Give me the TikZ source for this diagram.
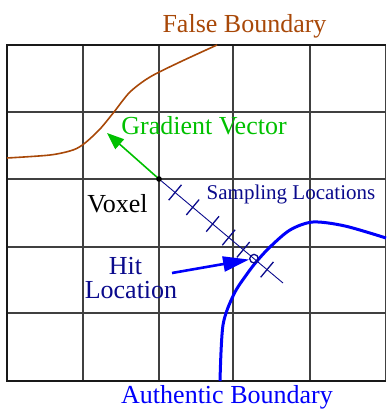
\documentclass[tikz,border=0pt]{standalone}
\usepackage{fontspec}
\setmainfont{Liberation Serif}
\usetikzlibrary{calc,arrows.meta}
\definecolor{falsebrown}{RGB}{168,72,8}
\definecolor{gradgreen}{RGB}{0,192,0}
\definecolor{sampnavy}{RGB}{10,10,140}
\definecolor{hitblue}{RGB}{0,0,250}

\begin{document}
\begin{tikzpicture}[x=1pt, y=-1pt,
  lbl/.style={anchor=base, inner sep=0pt, font=\fontsize{26}{28}\selectfont},
  gridline/.style={line width=1.1pt, black!75},
  frameline/.style={line width=2.4pt, black!90},
  samptick/.style={sampnavy, line width=1.3pt}]
\useasboundingbox (0,0) rectangle (386,409);

% grid
\foreach \gx in {83,159,233,310} \draw[gridline] (\gx,45) -- (\gx,381);
\foreach \gy in {112,179,247,313} \draw[gridline] (7,\gy) -- (385,\gy);
\draw[gridline] (385.3,45) -- (385.3,381);
\draw[frameline] (386,45) -- (7,45) -- (7,381) -- (386,381);

% boundaries
\draw[falsebrown, line width=1.6pt] plot[smooth] coordinates {(7,158) (50,155) (73,150) (85,143) (100,129) (114,112) (130,92) (150,77) (180,62) (217,45)};
\draw[hitblue, line width=3pt] plot[smooth] coordinates {(220,381) (223,325) (234,294) (247,274) (257,261) (270,247) (290,230) (313,222) (345,226) (386,238)};

% voxel, gradient and sampling ray
\coordinate (vox) at (159,179);
\coordinate (rayend) at (283,283);
\coordinate (gradtip) at (107,133);
\draw[sampnavy, line width=0.9pt] (vox) -- (rayend);
\foreach \d in {21,44,70,91,110,141}
  \draw[samptick] ($(vox)!\d pt!(rayend)$) ++(6.4,-7.7) -- ++(-12.8,15.4);
\coordinate (hit) at ($(vox)!124pt!(rayend)$);
\draw[sampnavy, line width=1.3pt] (hit) circle (4.3);
\draw[gradgreen, line width=1.6pt, -{Triangle[length=17pt, width=13pt]}] (vox) -- (gradtip);
\fill (vox) circle (2.8);

\coordinate (hittail) at (172,273);
\draw[hitblue, line width=2.6pt, shorten >=5pt, -{Triangle[length=26pt, width=15pt]}] (hittail) -- (hit);

% labels
\node[lbl, falsebrown] (falselbl) at (244.5,33) {False Boundary};
\node[lbl, gradgreen] (gradlbl) at (204,134) {Gradient Vector};
\node[lbl, sampnavy, font=\fontsize{21}{24}\selectfont] (samplbl) at (291,199) {Sampling Locations};
\node[lbl] (voxlbl) at (117.5,212) {Voxel};
\node[lbl, sampnavy] (hitlbl) at (125.5,274) {Hit};
\node[lbl, sampnavy] (loclbl) at (131,298) {Location};
\node[lbl, hitblue] (authlbl) at (227,403) {Authentic Boundary};
\end{tikzpicture}
\end{document}
